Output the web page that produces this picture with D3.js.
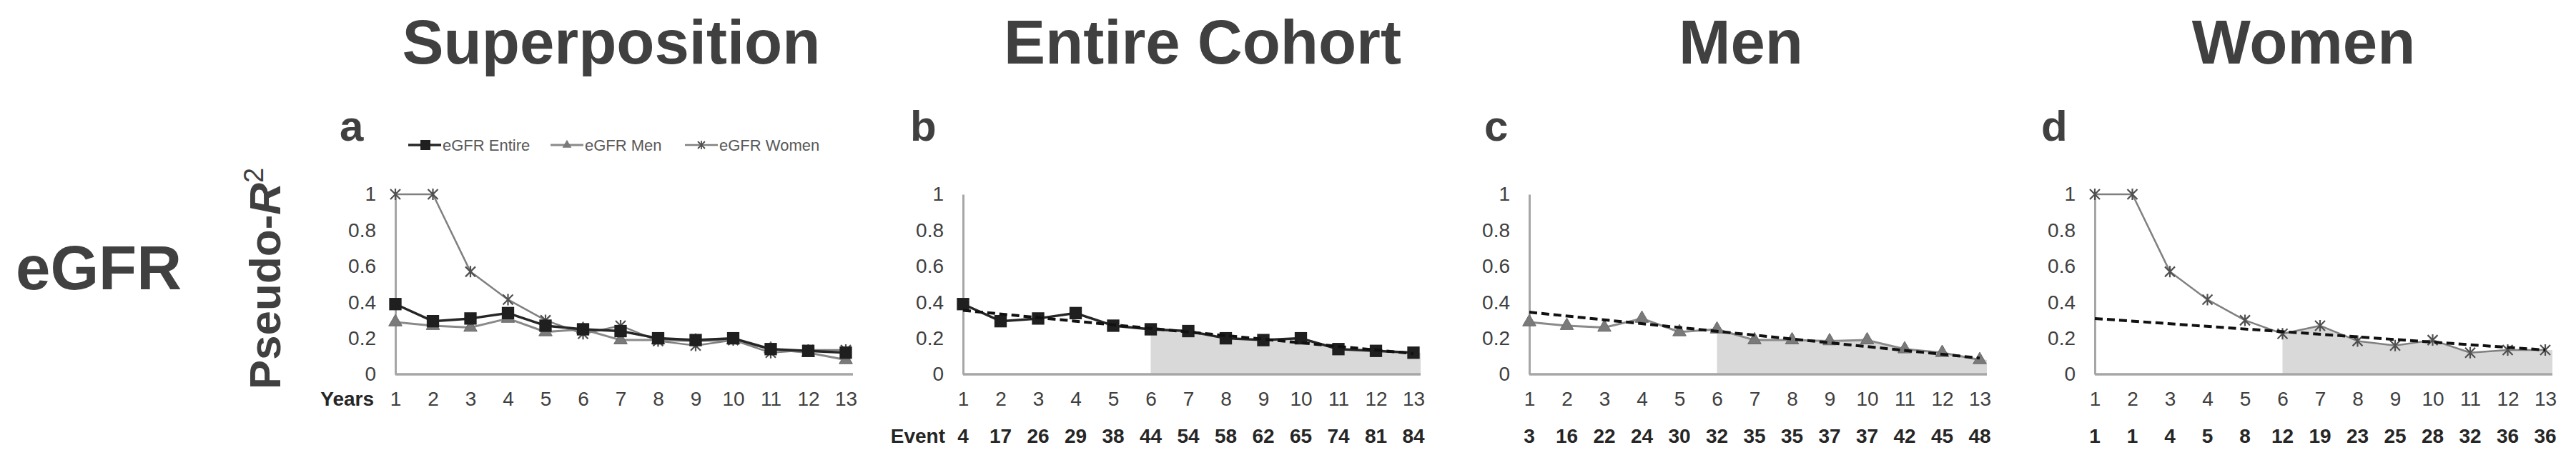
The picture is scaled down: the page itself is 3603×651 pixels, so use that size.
<!DOCTYPE html>
<html>
<head>
<meta charset="utf-8">
<script src="https://cdn.jsdelivr.net/npm/d3@7"></script>
<style>
  body { margin: 0; background: #fff; }
  text { font-family: "Liberation Sans", Arial, sans-serif; }
</style>
</head>
<body>
<svg id="chart" width="3603" height="651"></svg>
<script>
// x categories (years of follow-up)
const years = [1, 2, 3, 4, 5, 6, 7, 8, 9, 10, 11, 12, 13];
const yTicks = [0, 0.2, 0.4, 0.6, 0.8, 1];

// pseudo-R2 per year
const entire = [0.39, 0.295, 0.31, 0.34, 0.27, 0.25, 0.24, 0.20, 0.19, 0.20, 0.14, 0.13, 0.12];
const men = [0.29, 0.27, 0.26, 0.31, 0.235, 0.25, 0.19, 0.19, 0.185, 0.19, 0.14, 0.12, 0.08];
const women = [1.0, 1.0, 0.57, 0.415, 0.30, 0.225, 0.27, 0.185, 0.16, 0.19, 0.12, 0.135, 0.135];

// dashed trend lines, value at year 1 and at year 13
const trendEntire = [0.355, 0.115];
const trendMen = [0.345, 0.09];
const trendWomen = [0.31, 0.135];

// number of events under each year
const eventsEntire = [4, 17, 26, 29, 38, 44, 54, 58, 62, 65, 74, 81, 84];
const eventsMen = [3, 16, 22, 24, 30, 32, 35, 35, 37, 37, 42, 45, 48];
const eventsWomen = [1, 1, 4, 5, 8, 12, 19, 23, 25, 28, 32, 36, 36];

const titles = ["Superposition", "Entire Cohort", "Men", "Women"];
const letters = ["a", "b", "c", "d"];
const legendNames = ["eGFR Entire", "eGFR Men", "eGFR Women"];
const shadeFrom = 6;

const textColor = "#404040";
const axisColor = "#a6a6a6";
const shadeColor = "#d9d9d9";

const svg = d3.select("#chart");

// layout of the four panels
const panelX = [553, 1347, 2139, 2930];
const titleX = [855, 1682, 2435, 3222];
const letterX = [475, 1273, 2076, 2855];
const plotW = 630;

const y = d3.scaleLinear().domain([0, 1]).range([524, 272]);

// series styles
const styles = {
    entire: { line: "#262626", width: 3.5, marker: "square", fill: "#1f1f1f", stroke: "#1f1f1f" },
    men: { line: "#8a8a8a", width: 3, marker: "triangle", fill: "#7a7a7a", stroke: "#6a6a6a" },
    women: { line: "#808080", width: 2.5, marker: "star", fill: "none", stroke: "#505050" }
};

function drawMarker(g, kind, cx, cy, st) {
    if (kind === "square") {
        g.append("path")
            .attr("d", d3.symbol(d3.symbolSquare, 300)())
            .attr("transform", `translate(${cx},${cy})`)
            .attr("fill", st.fill);
    } else if (kind === "triangle") {
        g.append("path")
            .attr("d", d3.symbol(d3.symbolTriangle, 150)())
            .attr("transform", `translate(${cx},${cy})`)
            .attr("fill", st.fill)
            .attr("stroke", st.stroke)
            .attr("stroke-width", 1);
    } else {
        const r = 7;
        g.append("path")
            .attr("d", `M${-r},${-r}L${r},${r}M${-r},${r}L${r},${-r}M0,${-r - 1}L0,${r + 1}`)
            .attr("transform", `translate(${cx},${cy})`)
            .attr("stroke", st.stroke)
            .attr("stroke-width", 2.2)
            .attr("fill", "none");
    }
}

function drawSeries(g, x, values, st) {
    const line = d3.line().x((d, i) => x(years[i])).y(d => y(d));
    g.append("path")
        .attr("d", line(values))
        .attr("fill", "none")
        .attr("stroke", st.line)
        .attr("stroke-width", st.width)
        .attr("stroke-linejoin", "round");
    values.forEach((v, i) => drawMarker(g, st.marker, x(years[i]), y(v), st));
}

function drawPanel(p, series, trend, events) {
    const x0 = panelX[p];
    const x = d3.scaleLinear().domain([1, 13]).range([x0, x0 + plotW]);
    const g = svg.append("g");

    // title and panel letter
    svg.append("text")
        .attr("x", titleX[p]).attr("y", 89)
        .attr("text-anchor", "middle")
        .attr("font-size", 87).attr("font-weight", "bold")
        .attr("fill", textColor)
        .text(titles[p]);
    svg.append("text")
        .attr("x", letterX[p]).attr("y", 197)
        .attr("font-size", 60).attr("font-weight", "bold")
        .attr("fill", textColor)
        .text(letters[p]);

    // grey area under the curve from year 6 on
    if (trend) {
        const vals = series[0].values;
        const pts = years.map((yr, i) => [x(yr), y(vals[i])]).filter((d, i) => years[i] >= shadeFrom);
        pts.push([x(13) + 10, y(vals[vals.length - 1])]);
        const area = d3.area().x(d => d[0]).y0(y(0)).y1(d => d[1]);
        g.append("path").attr("d", area(pts)).attr("fill", shadeColor);
    }

    // y axis
    const yAxis = d3.axisLeft(y)
        .tickValues(yTicks)
        .tickSize(0)
        .tickPadding(27)
        .tickFormat(d => (d === 0 || d === 1) ? d : d3.format(".1f")(d));
    const ya = g.append("g").attr("transform", `translate(${x0},0)`).call(yAxis);
    ya.select(".domain").attr("stroke", axisColor).attr("stroke-width", 3);
    ya.selectAll("text")
        .attr("font-size", 28)
        .attr("fill", textColor)
        .attr("font-family", "Liberation Sans, Arial, sans-serif");

    // x axis line and tick labels
    g.append("line")
        .attr("x1", x0).attr("x2", x(13) + 10)
        .attr("y1", y(0)).attr("y2", y(0))
        .attr("stroke", axisColor).attr("stroke-width", 3.5);
    const xAxis = d3.axisBottom(x).tickValues(years).tickSize(0).tickPadding(24);
    const xa = g.append("g").attr("transform", `translate(0,${y(0)})`).call(xAxis);
    xa.select(".domain").remove();
    xa.selectAll("text")
        .attr("font-size", 28)
        .attr("fill", textColor)
        .attr("font-family", "Liberation Sans, Arial, sans-serif");

    // series
    series.forEach(s => drawSeries(g, x, s.values, s.style));

    // dashed trend
    if (trend) {
        g.append("line")
            .attr("x1", x(1)).attr("y1", y(trend[0]))
            .attr("x2", x(13)).attr("y2", y(trend[1]))
            .attr("stroke", "#111")
            .attr("stroke-width", 4)
            .attr("stroke-dasharray", "11,6");
    }

    // row of event counts
    if (events) {
        g.selectAll(".ev").data(events).join("text")
            .attr("x", (d, i) => x(years[i]))
            .attr("y", 620)
            .attr("text-anchor", "middle")
            .attr("font-size", 28).attr("font-weight", "bold")
            .attr("fill", "#262626")
            .text(d => d);
    }
    return x;
}

// panel a: all three series
drawPanel(0, [
    { values: men, style: styles.men },
    { values: women, style: styles.women },
    { values: entire, style: styles.entire }
], null, null);
drawPanel(1, [{ values: entire, style: styles.entire }], trendEntire, eventsEntire);
drawPanel(2, [{ values: men, style: styles.men }], trendMen, eventsMen);
drawPanel(3, [{ values: women, style: styles.women }], trendWomen, eventsWomen);

// row labels
svg.append("text").attr("x", 523).attr("y", 568)
    .attr("text-anchor", "end").attr("font-size", 28).attr("font-weight", "bold")
    .attr("fill", "#262626").text("Years");
svg.append("text").attr("x", 1322).attr("y", 620)
    .attr("text-anchor", "end").attr("font-size", 28).attr("font-weight", "bold")
    .attr("fill", "#262626").text("Event");

// eGFR row label
svg.append("text").attr("x", 22).attr("y", 405)
    .attr("font-size", 87).attr("font-weight", "bold")
    .attr("fill", textColor).text("eGFR");

// Pseudo-R2 axis title
const yt = svg.append("text")
    .attr("transform", "translate(392,390) rotate(-90)")
    .attr("text-anchor", "middle")
    .attr("font-size", 62).attr("font-weight", "bold")
    .attr("fill", textColor);
yt.append("tspan").text("Pseudo-");
yt.append("tspan").attr("font-style", "italic").text("R");
yt.append("tspan").attr("dy", -24).attr("font-size", 38).attr("font-weight", "normal").text("2");

// legend of panel a
const legendX = [571, 770, 958];
const legendStyles = [styles.entire, styles.men, styles.women];
const lg = svg.append("g");
legendNames.forEach((name, i) => {
    const st = legendStyles[i];
    const lx = legendX[i];
    lg.append("line")
        .attr("x1", lx).attr("x2", lx + 46)
        .attr("y1", 203).attr("y2", 203)
        .attr("stroke", st.line).attr("stroke-width", st.width);
    const mg = lg.append("g");
    if (st.marker === "square") {
        mg.append("rect").attr("x", lx + 17).attr("y", 196).attr("width", 14).attr("height", 14).attr("fill", st.fill);
    } else if (st.marker === "triangle") {
        mg.append("path").attr("d", d3.symbol(d3.symbolTriangle, 70)())
            .attr("transform", `translate(${lx + 23},203)`).attr("fill", st.fill);
    } else {
        mg.append("path").attr("d", "M-5,-5L5,5M-5,5L5,-5M0,-6L0,6")
            .attr("transform", `translate(${lx + 23},203)`)
            .attr("stroke", st.stroke).attr("stroke-width", 1.8);
    }
    lg.append("text")
        .attr("x", lx + 48).attr("y", 211)
        .attr("font-size", 22)
        .attr("fill", "#595959")
        .text(name);
});
</script>
</body>
</html>
